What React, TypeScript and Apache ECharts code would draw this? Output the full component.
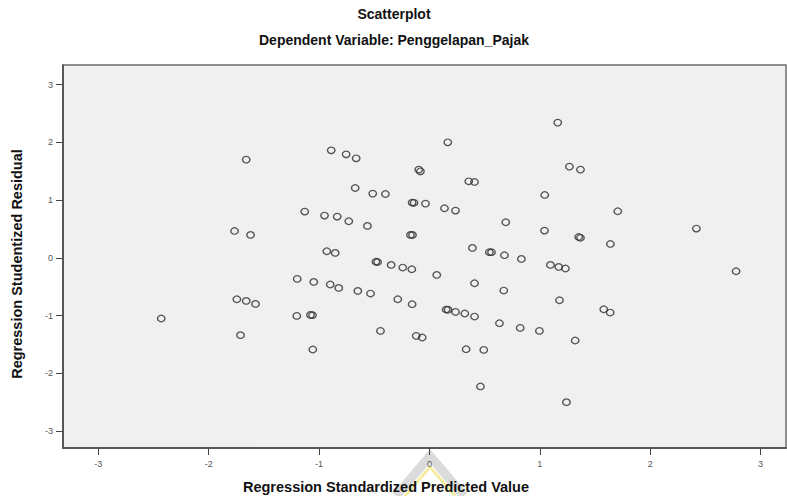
import React, { useEffect, useRef } from "react";
import * as echarts from "echarts";

const titleText = "Scatterplot";
const subtitleText = "Dependent Variable: Penggelapan_Pajak";
const xAxisTitle = "Regression Standardized Predicted Value";
const yAxisTitle = "Regression Studentized Residual";
const tickValues = [-3, -2, -1, 0, 1, 2, 3];

// Regression Standardized Predicted Value
const predicted = [
  -1.66, -0.89, -0.755, -0.664, -0.673, -0.514, -1.13, -0.951, -0.836, -0.731,
  -0.562, -1.766, -1.621, -0.93, -0.854, -0.485, -0.47, -1.198, -1.048, -0.899,
  -0.822, -0.649, -0.534, -1.745, -1.66, -1.576, -2.43, -1.202, -1.078, -1.06,
  -0.444, -1.712, -1.057, 1.162, 0.166, -0.097, -0.082, 1.268, 1.368, 0.356,
  0.408, -0.399, 1.044, -0.157, -0.14, -0.036, 0.136, 0.236, 1.706, 0.691,
  2.418, -0.172, -0.154, 1.042, 1.352, 1.368, 1.639, 0.389, 0.543, 0.562,
  0.679, 0.833, -0.347, -0.242, -0.16, 0.066, 1.096, 1.171, 1.232, 2.778,
  0.408, 0.673, -0.287, -0.157, 1.178, 0.151, 0.168, 0.236, 0.32, 0.408,
  1.579, 1.637, -0.12, -0.066, 0.634, 0.822, 0.996, 1.32, 0.332, 0.492,
  0.462, 1.241,
];

// Regression Studentized Residual
const residual = [
  1.702, 1.863, 1.794, 1.725, 1.211, 1.114, 0.803, 0.734, 0.716, 0.635,
  0.554, 0.467, 0.398, 0.116, 0.087, -0.066, -0.07, -0.363, -0.415, -0.46,
  -0.519, -0.571, -0.616, -0.715, -0.744, -0.796, -1.048, -1.003, -0.986, -0.991,
  -1.263, -1.337, -1.585, 2.343, 2.002, 1.529, 1.5, 1.581, 1.529, 1.327,
  1.315, 1.107, 1.09, 0.958, 0.955, 0.941, 0.86, 0.82, 0.808, 0.618,
  0.509, 0.398, 0.398, 0.474, 0.363, 0.349, 0.242, 0.173, 0.099, 0.099,
  0.047, -0.017, -0.121, -0.166, -0.196, -0.294, -0.121, -0.156, -0.183, -0.23,
  -0.438, -0.564, -0.715, -0.801, -0.732, -0.893, -0.896, -0.934, -0.962, -1.014,
  -0.888, -0.945, -1.349, -1.377, -1.13, -1.211, -1.263, -1.429, -1.58, -1.592,
  -2.225, -2.497,
];

export default function App() {
  const ref = useRef<HTMLDivElement>(null);

  useEffect(() => {
    if (!ref.current) return;
    const chart = echarts.init(ref.current, undefined, { renderer: "svg" });
    const points = predicted.map((x, i) => [x, residual[i]]);
    const font = "'Liberation Sans', Arial, sans-serif";

    chart.setOption({
      animation: false,
      backgroundColor: "#ffffff",
      grid: {
        left: 63,
        top: 65,
        right: 1,
        bottom: 48,
        show: true,
        backgroundColor: "#f0f0f0",
        borderColor: "#6e6e6e",
        borderWidth: 1.5,
      },
      xAxis: {
        type: "value",
        min: -3.32,
        max: 3.23,
        splitLine: { show: false },
        axisLine: { show: true, onZero: false, lineStyle: { color: "#444", width: 1.5 } },
        axisTick: {
          show: true,
          length: 7,
          customValues: tickValues,
          lineStyle: { color: "#444", width: 1 },
        },
        axisLabel: {
          customValues: tickValues,
          fontSize: 9,
          color: "#555",
          fontFamily: font,
          margin: 11,
        },
      },
      yAxis: {
        type: "value",
        min: -3.29,
        max: 3.34,
        splitLine: { show: false },
        axisLine: { show: true, onZero: false, lineStyle: { color: "#444", width: 1.5 } },
        axisTick: {
          show: true,
          length: 7,
          customValues: tickValues,
          lineStyle: { color: "#444", width: 1 },
        },
        axisLabel: {
          customValues: tickValues,
          fontSize: 9,
          color: "#555",
          fontFamily: font,
          margin: 10,
        },
      },
      series: [
        {
          type: "scatter",
          data: points,
          symbol: "circle",
          symbolSize: [7.5, 6.5],
          itemStyle: {
            color: "rgba(0,0,0,0)",
            borderColor: "#2a2a2a",
            borderWidth: 1.3,
          },
        },
      ],
      graphic: [
        {
          type: "polyline",
          shape: { points: [[396, 496], [430, 456], [464, 496]] },
          style: { stroke: "rgba(190,190,190,0.55)", lineWidth: 9, fill: null },
          z: -1,
        },
        {
          type: "polyline",
          shape: { points: [[405, 496], [430, 467], [455, 496]] },
          style: { stroke: "rgba(240,230,120,0.7)", lineWidth: 3, fill: null },
          z: -1,
        },
        {
          type: "text",
          x: 394,
          y: 14,
          style: {
            text: titleText,
            font: `bold 14px ${font}`,
            fill: "#111",
            align: "center",
            verticalAlign: "middle",
          },
        },
        {
          type: "text",
          x: 394,
          y: 40,
          style: {
            text: subtitleText,
            font: `bold 14px ${font}`,
            fill: "#111",
            align: "center",
            verticalAlign: "middle",
          },
        },
        {
          type: "text",
          x: 386,
          y: 487,
          style: {
            text: xAxisTitle,
            font: `bold 14.5px ${font}`,
            fill: "#111",
            align: "center",
            verticalAlign: "middle",
          },
        },
        {
          type: "text",
          x: 17,
          y: 264,
          rotation: Math.PI / 2,
          style: {
            text: yAxisTitle,
            font: `bold 14.5px ${font}`,
            fill: "#111",
            align: "center",
            verticalAlign: "middle",
          },
        },
      ],
    });

    return () => chart.dispose();
  }, []);

  return (
    <div
      ref={ref}
      style={{ position: "fixed", left: 0, top: 0, width: 787, height: 496 }}
    />
  );
}
